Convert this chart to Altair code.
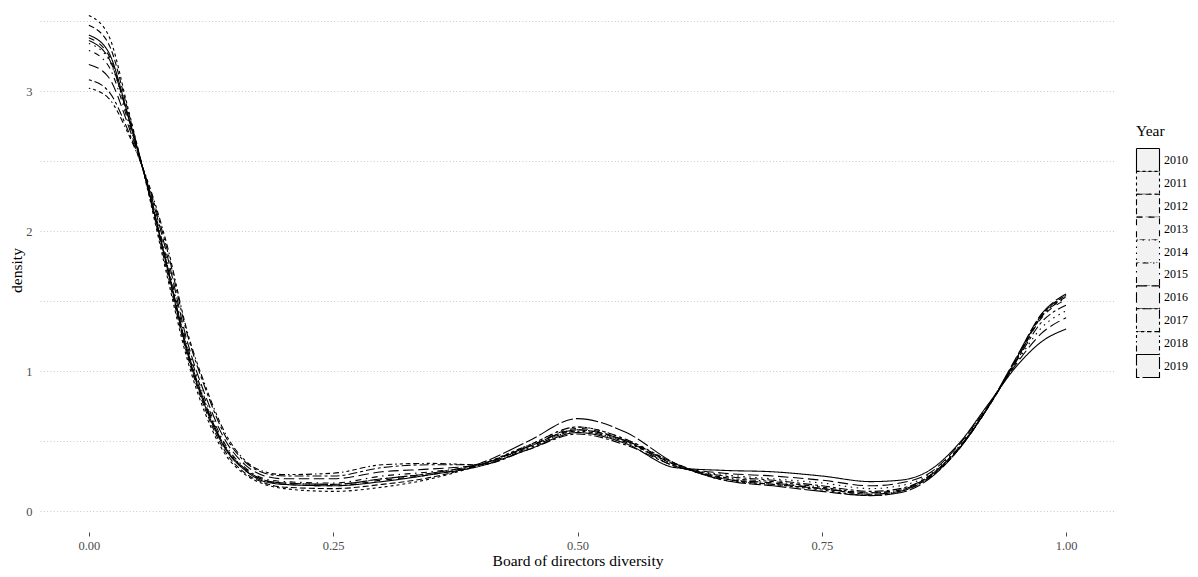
import altair as alt
import pandas as pd

# grid of x positions (Board of directors diversity) at which density was read
x_grid = [0.00, 0.02, 0.04, 0.06, 0.08, 0.10, 0.12, 0.14, 0.16, 0.18, 0.20,
          0.25, 0.30, 0.35, 0.40, 0.45, 0.50, 0.55, 0.60, 0.65, 0.70, 0.75,
          0.80, 0.83, 0.86, 0.89, 0.92, 0.95, 0.975, 1.00]

years = ["2010", "2011", "2012", "2013", "2014", "2015", "2016", "2017", "2018", "2019"]

d2010 = [3.40, 3.28, 2.83, 2.32, 1.74, 1.15, 0.73, 0.44, 0.29, 0.21, 0.19, 0.18, 0.21, 0.26,
         0.32, 0.44, 0.56, 0.48, 0.31, 0.29, 0.28, 0.25, 0.21, 0.22, 0.29, 0.48, 0.76, 1.04, 1.21, 1.30]
d2011 = [3.54, 3.40, 2.88, 2.30, 1.68, 1.10, 0.68, 0.40, 0.26, 0.19, 0.16, 0.14, 0.17, 0.23,
         0.33, 0.47, 0.60, 0.51, 0.34, 0.22, 0.19, 0.15, 0.11, 0.14, 0.24, 0.44, 0.74, 1.10, 1.40, 1.54]
d2012 = [3.47, 3.34, 2.86, 2.31, 1.71, 1.13, 0.71, 0.42, 0.27, 0.20, 0.17, 0.16, 0.19, 0.24,
         0.33, 0.46, 0.58, 0.50, 0.34, 0.23, 0.19, 0.16, 0.12, 0.14, 0.24, 0.44, 0.74, 1.10, 1.40, 1.54]
d2013 = [3.38, 3.26, 2.82, 2.32, 1.75, 1.16, 0.74, 0.45, 0.29, 0.22, 0.19, 0.18, 0.22, 0.26,
         0.33, 0.46, 0.59, 0.50, 0.33, 0.23, 0.20, 0.16, 0.13, 0.15, 0.25, 0.45, 0.74, 1.09, 1.38, 1.51]
d2014 = [3.34, 3.23, 2.81, 2.32, 1.76, 1.18, 0.76, 0.46, 0.30, 0.22, 0.20, 0.19, 0.23, 0.27,
         0.33, 0.45, 0.57, 0.49, 0.32, 0.26, 0.23, 0.20, 0.16, 0.18, 0.26, 0.46, 0.75, 1.07, 1.31, 1.43]
d2015 = [3.29, 3.18, 2.79, 2.33, 1.79, 1.20, 0.78, 0.47, 0.31, 0.23, 0.21, 0.20, 0.25, 0.28,
         0.33, 0.47, 0.60, 0.51, 0.33, 0.23, 0.20, 0.16, 0.12, 0.14, 0.24, 0.44, 0.74, 1.09, 1.39, 1.52]
d2016 = [3.19, 3.10, 2.76, 2.34, 1.83, 1.23, 0.81, 0.50, 0.33, 0.25, 0.23, 0.23, 0.28, 0.30,
         0.33, 0.46, 0.58, 0.50, 0.32, 0.27, 0.25, 0.22, 0.18, 0.20, 0.27, 0.47, 0.75, 1.06, 1.27, 1.38]
d2017 = [3.08, 3.00, 2.72, 2.35, 1.87, 1.28, 0.86, 0.53, 0.35, 0.27, 0.25, 0.25, 0.31, 0.33,
         0.33, 0.44, 0.55, 0.47, 0.32, 0.25, 0.22, 0.18, 0.14, 0.16, 0.25, 0.45, 0.74, 1.08, 1.35, 1.47]
d2018 = [3.02, 2.95, 2.70, 2.36, 1.90, 1.30, 0.88, 0.55, 0.36, 0.28, 0.26, 0.27, 0.33, 0.34,
         0.33, 0.45, 0.57, 0.49, 0.33, 0.24, 0.21, 0.17, 0.13, 0.15, 0.25, 0.45, 0.74, 1.09, 1.39, 1.53]
d2019 = [3.36, 3.24, 2.82, 2.32, 1.76, 1.17, 0.75, 0.45, 0.30, 0.22, 0.20, 0.19, 0.23, 0.27,
         0.34, 0.50, 0.66, 0.56, 0.34, 0.22, 0.18, 0.14, 0.11, 0.13, 0.23, 0.44, 0.74, 1.11, 1.41, 1.55]

series = [d2010, d2011, d2012, d2013, d2014, d2015, d2016, d2017, d2018, d2019]

# R/ggplot linetypes (solid, 22, 42, 44, 13, 1343, 73, 2262, 12223242, F282)
dashes = [[1, 0], [3, 3], [6, 3], [6, 6], [1.5, 4.5], [1.5, 4.5, 6, 4.5],
          [10.5, 4.5], [3, 3, 9, 3], [1.5, 3, 3, 3, 4.5, 3, 6, 3], [22.5, 3, 12, 3]]

rows = []
for yr, vals in zip(years, series):
    for xv, dv in zip(x_grid, vals):
        rows.append({"Year": yr, "x": xv, "density": dv})
df = pd.DataFrame(rows)
legend_df = pd.DataFrame({"Year": years})

FONT = "Liberation Serif"
GREY = "#4d4d4d"

dash_scale = alt.Scale(domain=years, range=dashes)

lines = alt.Chart(df).mark_line(
    interpolate="monotone", color="black", strokeWidth=1.1
).encode(
    x=alt.X("x:Q", title="Board of directors diversity",
            scale=alt.Scale(domain=[-0.05, 1.05], nice=False, zero=False),
            axis=alt.Axis(values=[0, 0.25, 0.5, 0.75, 1.0], format=".2f",
                          grid=False, domain=False, ticks=True, tickSize=4,
                          tickColor=GREY, tickWidth=1, labelColor=GREY,
                          labelFontSize=12.5, labelPadding=3, titleFontSize=15.5,
                          titleFontWeight="normal", titlePadding=2, titleColor="black")),
    y=alt.Y("density:Q", title="density",
            scale=alt.Scale(domain=[-0.15, 3.593], nice=False, zero=False),
            axis=alt.Axis(values=[0, 0.5, 1, 1.5, 2, 2.5, 3, 3.5],
                          labelExpr="datum.value % 1 == 0 ? format(datum.value, 'd') : ''",
                          grid=True, gridColor="#c8c8c8", gridDash=[1, 2.3], gridWidth=1,
                          domain=False, ticks=False, labelColor=GREY, labelFontSize=12.5,
                          labelPadding=8, titleFontSize=15.5, titleFontWeight="normal",
                          titlePadding=1, titleColor="black")),
    strokeDash=alt.StrokeDash("Year:N", scale=dash_scale, legend=None),
    detail="Year:N",
)

# hand-built legend (keys as boxes outlined with each year's line type)
key_y = alt.Y("Year:N", scale=alt.Scale(type="point", domain=years, range=[152, 358], padding=0),
              axis=None)

keys = alt.Chart(legend_df).mark_square(
    size=529, fill="#f2f2f2", stroke="black", strokeWidth=1.1, opacity=1
).encode(
    x=alt.value(1108),
    y=key_y,
    strokeDash=alt.StrokeDash("Year:N", scale=dash_scale, legend=None),
)

key_labels = alt.Chart(legend_df).mark_text(
    align="left", baseline="middle", fontSize=12, color="black", font=FONT
).encode(
    x=alt.value(1124),
    y=key_y,
    text="Year:N",
)

legend_title = alt.Chart(legend_df).transform_filter(
    alt.datum.Year == years[0]
).mark_text(
    align="left", baseline="middle", fontSize=15.5, color="black", font=FONT
).encode(
    x=alt.value(1096),
    y=alt.value(123),
    text=alt.value("Year"),
)

chart = alt.layer(lines, keys, key_labels, legend_title).resolve_scale(
    y="independent"
).properties(
    width=1075, height=524,
    autosize=alt.AutoSizeParams(type="none"),
    padding={"left": 32, "top": 0, "right": 75, "bottom": 37},
).configure(
    font=FONT
).configure_view(
    stroke=None
)

chart.save("out.html", embed_options={"renderer": "svg", "actions": False})
